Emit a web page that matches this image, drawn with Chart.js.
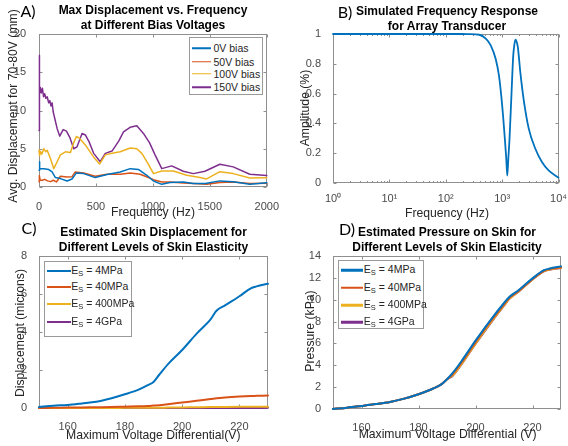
<!DOCTYPE html>
<html><head><meta charset="utf-8">
<script src="https://cdn.jsdelivr.net/npm/chart.js@4.4.0/dist/chart.umd.min.js"></script>
<style>
body{margin:0;background:#fff;width:568px;height:446px;position:relative;overflow:hidden;font-family:'Liberation Sans',Arial,sans-serif;}
canvas{position:absolute;}
.t{position:absolute;transform:translate(-50%,-50%);white-space:nowrap;line-height:1;}
.ttl{font-weight:bold;font-size:12px;color:#000;}
.ax{font-size:12.2px;color:#262626;}
.rot{transform:translate(-50%,-50%) rotate(-90deg);}
.let{font-family:Lato,'Liberation Sans',sans-serif;font-size:16px;color:#000;}
.leg{position:absolute;background:#fff;border:1px solid #9a9a9a;box-sizing:border-box;}
.sw{position:absolute;transform:translateY(-50%);}
.lt{position:absolute;transform:translateY(-50%);font-size:10.5px;color:#262626;line-height:1;white-space:nowrap;}
.lt sub{font-size:7.5px;vertical-align:-2px;}
</style></head>
<body>
<canvas id="cA" width="284" height="223" style="left:0;top:0"></canvas>
<canvas id="cB" width="284" height="223" style="left:284px;top:0"></canvas>
<canvas id="cC" width="284" height="223" style="left:0;top:223px"></canvas>
<canvas id="cD" width="284" height="223" style="left:284px;top:223px"></canvas>

<div class="t let" style="left:28px;top:11px">A)</div>
<div class="t let" style="left:345px;top:11.5px">B)</div>
<div class="t let" style="left:29px;top:228px">C)</div>
<div class="t let" style="left:347px;top:229px">D)</div>

<div class="t ttl" style="left:153px;top:10px">Max Displacement vs. Frequency</div>
<div class="t ttl" style="left:153px;top:25px">at Different Bias Voltages</div>
<div class="t ttl" style="left:447px;top:10.5px">Simulated Frequency Response</div>
<div class="t ttl" style="left:447px;top:25.7px">for Array Transducer</div>
<div class="t ttl" style="left:153.5px;top:232.3px">Estimated Skin Displacement for</div>
<div class="t ttl" style="left:153.5px;top:247px">Different Levels of Skin Elasticity</div>
<div class="t ttl" style="left:447px;top:232.3px">Estimated Pressure on Skin for</div>
<div class="t ttl" style="left:447px;top:247px">Different Levels of Skin Elasticity</div>

<div class="t ax" style="left:153px;top:211.7px">Frequency (Hz)</div>
<div class="t ax rot" style="left:13px;top:106px">Avg. Displacement for 70-80V (mm)</div>
<div class="t ax" style="left:447px;top:212.7px">Frequency (Hz)</div>
<div class="t ax rot" style="left:304.7px;top:108.3px">Amplitude (%)</div>
<div class="t ax" style="left:153.3px;top:435px">Maximum Voltage Differential(V)</div>
<div class="t ax rot" style="left:20px;top:333px">Displacement (microns)</div>
<div class="t ax" style="left:447.6px;top:434px">Maximum Voltage Differential (V)</div>
<div class="t ax rot" style="left:310px;top:331px">Pressure (kPa)</div>

<div id="legA" class="leg" style="left:189px;top:37px;width:74px;height:58px"></div>
<div id="legC" class="leg" style="left:44px;top:260.7px;width:87.5px;height:76.3px"></div>
<div id="legD" class="leg" style="left:338.3px;top:259.7px;width:85.7px;height:69.3px"></div>

<script>
// ---------- Colours (MATLAB default order) ----------
const colors = ['#0072BD', '#D95319', '#EDB120', '#7E2F8E'];

// ---------- Panel A: Max displacement vs frequency ----------
const seriesNamesA = ['0V bias', '50V bias', '100V bias', '150V bias'];
const freqA0 = [0, 3, 8, 42, 86, 115, 144, 188, 247, 290, 328, 392, 494, 597, 713, 801, 873, 947, 1005, 1078, 1151, 1267, 1355, 1460, 1588, 1705, 1851, 2000];
const dispA0 = [2.2, 3.3, 2.4, 2.4, 2.28, 1.97, 1.23, 1.1, 0.79, 1.05, 1.84, 1.75, 1.23, 1.63, 1.97, 2.4, 2.3, 1.53, 0.79, 0.35, 0.6, 0.66, 0.45, 0.45, 0.8, 0.7, 0.35, 0.56];
const freqA50 = [0, 3, 10, 28, 50, 75, 101, 125, 153, 188, 247, 290, 319, 392, 494, 597, 713, 801, 888, 950, 1005, 1078, 1151, 1267, 1355, 1472, 1588, 1705, 1851, 2000];
const dispA50 = [0.7, 1.5, 0.9, 0.88, 1.0, 0.8, 0.7, 0.88, 0.66, 1.4, 1.3, 1.35, 1.97, 1.84, 1.4, 1.66, 1.66, 1.84, 1.66, 1.3, 0.96, 0.66, 0.66, 0.53, 0.45, 0.35, 0.6, 0.66, 0.45, 0.5];
const freqA100 = [0, 5, 15, 25, 42, 60, 72, 101, 130, 159, 188, 232, 276, 305, 328, 357, 407, 480, 532, 582, 641, 713, 801, 859, 903, 960, 1005, 1078, 1179, 1297, 1413, 1472, 1588, 1705, 1851, 2000];
const dispA100 = [4.8, 4.1, 4.6, 4.3, 5.0, 4.6, 4.8, 3.7, 2.4, 3.3, 4.2, 4.6, 4.5, 5.8, 6.6, 6.35, 5.5, 3.9, 3.0, 4.2, 4.4, 4.6, 5.1, 5.0, 4.4, 3.0, 1.75, 2.1, 2.1, 1.53, 1.23, 1.05, 2.0, 1.75, 1.18, 1.2];
const freqA150 = [0, 2, 6, 12, 20, 30, 40, 50, 60, 72, 85, 95, 105, 115, 125, 159, 182, 212, 241, 270, 305, 334, 378, 407, 440, 480, 538, 582, 641, 700, 742, 800, 859, 917, 970, 1019, 1078, 1165, 1267, 1355, 1457, 1588, 1705, 1851, 2000];
const dispA150 = [7.4, 17.2, 12.2, 13.0, 12.3, 12.9, 11.8, 12.2, 11.6, 11.8, 11.0, 11.3, 10.6, 11.0, 9.8, 7.66, 6.65, 7.5, 7.3, 6.5, 5.0, 5.25, 7.0, 6.8, 5.9, 4.4, 3.3, 4.4, 4.7, 6.0, 7.2, 7.8, 8.0, 7.0, 5.8, 4.2, 2.4, 2.76, 2.06, 1.75, 2.06, 2.98, 2.63, 1.66, 1.49];
const xTicksA = [0, 500, 1000, 1500, 2000];
const yTicksA = [0, 5, 10, 15, 20];

// ---------- Panel B: simulated frequency response ----------
const freqB = [1, 10, 100, 200, 261, 392, 513, 627, 767, 879, 1007, 1122, 1180, 1233, 1290, 1349, 1466, 1570, 1650, 1726, 1800, 1897, 2113, 2421, 2965, 3881, 5082, 6668, 10000];
const ampB = [1, 1, 1, 1, 0.999, 0.995, 0.969, 0.924, 0.834, 0.72, 0.51, 0.286, 0.17, 0.05, 0.17, 0.29, 0.6, 0.85, 0.93, 0.962, 0.95, 0.913, 0.734, 0.555, 0.365, 0.23, 0.141, 0.085, 0.036];
const xMajorB = [1, 10, 100, 1000, 10000];
const xMajorLabelsB = ['10\u2070', '10\u00B9', '10\u00B2', '10\u00B3', '10\u2074'];
const xMinorB = [2,3,4,5,6,7,8,9,20,30,40,50,60,70,80,90,200,300,400,500,600,700,800,900,2000,3000,4000,5000,6000,7000,8000,9000];
const yTicksB = [0, 0.2, 0.4, 0.6, 0.8, 1];

// ---------- Panels C & D: skin elasticity ----------
const seriesNamesCD = ['4MPa', '40MPa', '400MPa', '4GPa'];
const voltsCD = [150, 155, 160, 165, 170, 175, 180, 185, 188, 190, 192, 195, 200, 205, 210, 212, 215, 220, 224, 226, 230];
const dispC4M = [0.05, 0.12, 0.16, 0.24, 0.33, 0.5, 0.72, 0.98, 1.2, 1.37, 1.75, 2.3, 3.05, 3.9, 4.68, 5.12, 5.4, 5.88, 6.3, 6.4, 6.54];
const dispC40M = [0, 0.01, 0.02, 0.03, 0.04, 0.05, 0.07, 0.09, 0.11, 0.13, 0.15, 0.2, 0.29, 0.38, 0.47, 0.51, 0.55, 0.6, 0.63, 0.64, 0.66];
const dispC400M = [0, 0.001, 0.002, 0.003, 0.004, 0.005, 0.007, 0.009, 0.011, 0.013, 0.015, 0.02, 0.029, 0.038, 0.047, 0.051, 0.055, 0.06, 0.063, 0.064, 0.066];
const dispC4G = [0, 0.0001, 0.0002, 0.0003, 0.0004, 0.0005, 0.0007, 0.0009, 0.0011, 0.0013, 0.0015, 0.002, 0.0029, 0.0038, 0.0047, 0.0051, 0.0055, 0.006, 0.0063, 0.0064, 0.0066];
const presD4M = [0, 0.12, 0.28, 0.45, 0.65, 0.95, 1.35, 1.85, 2.25, 2.72, 3.3, 4.35, 6.25, 8.05, 9.7, 10.3, 10.85, 11.95, 12.7, 12.85, 13.05];
const presD40M = [0, 0.12, 0.28, 0.45, 0.65, 0.95, 1.35, 1.85, 2.25, 2.72, 3.2, 4.22, 6.12, 7.92, 9.58, 10.2, 10.78, 11.9, 12.65, 12.8, 12.98];
const presD400M = [0, 0.12, 0.28, 0.45, 0.65, 0.95, 1.35, 1.85, 2.25, 2.72, 3.08, 4.08, 5.98, 7.78, 9.47, 10.12, 10.72, 11.86, 12.61, 12.76, 12.92];
const presD4G = [0, 0.12, 0.28, 0.45, 0.65, 0.95, 1.35, 1.85, 2.25, 2.72, 3.05, 4.05, 5.95, 7.75, 9.45, 10.1, 10.7, 11.85, 12.6, 12.75, 12.9];
const xTicksCD = [160, 180, 200, 220];
const yTicksC = [0, 2, 4, 6, 8];
const yTicksD = [0, 2, 4, 6, 8, 10, 12, 14];

// ---------- helpers ----------
const TICK_FONT = {family: "'Liberation Sans', Arial, sans-serif", size: 11};
const TICK_COLOR = '#4a4a4a';
const AXIS_COLOR = '#8f8f8f';

const pts = (xs, ys) => xs.map((x, i) => ({x: x, y: ys[i]}));

const boxPlugin = {
  id: 'mbox',
  beforeDatasetsDraw(chart) {
    const {ctx, chartArea: a, scales} = chart;
    const L = Math.round(a.left) + 0.5, R = Math.round(a.right) - 0.5;
    const T = Math.round(a.top) + 0.5, B = Math.round(a.bottom) - 0.5;
    ctx.save();
    ctx.strokeStyle = AXIS_COLOR;
    ctx.lineWidth = 1;
    ctx.strokeRect(L, T, R - L, B - T);
    ctx.beginPath();
    const xs = scales.x, ys = scales.y;
    const minorX = xs.options.minorTicks || [];
    xs.ticks.forEach(t => {
      const len = minorX.includes(t.value) ? 1.5 : 3;
      const p = Math.round(xs.getPixelForValue(t.value)) + 0.5;
      ctx.moveTo(p, B); ctx.lineTo(p, B - len);
      ctx.moveTo(p, T); ctx.lineTo(p, T + len);
    });
    ys.ticks.forEach(t => {
      const p = Math.round(ys.getPixelForValue(t.value)) + 0.5;
      ctx.moveTo(L, p); ctx.lineTo(L + 3, p);
      ctx.moveTo(R, p); ctx.lineTo(R - 3, p);
    });
    ctx.stroke();
    ctx.restore();
  }
};

function makeChart(id, area, xOpt, yOpt, datasets) {
  const W = 284, H = 223;
  const xs = Object.assign({
    grid: {display: false}, border: {display: false},
    afterFit: s => { s.height = H - area.b; }
  }, xOpt);
  xs.ticks = Object.assign({font: TICK_FONT, color: TICK_COLOR, autoSkip: false, maxRotation: 0, minRotation: 0}, xOpt.ticks);
  const ys = Object.assign({
    grid: {display: false}, border: {display: false},
    afterFit: s => { s.width = area.l; }
  }, yOpt);
  ys.ticks = Object.assign({font: TICK_FONT, color: TICK_COLOR, autoSkip: false}, yOpt.ticks);
  return new Chart(document.getElementById(id), {
    type: 'line',
    data: {datasets: datasets},
    options: {
      responsive: false, animation: false, devicePixelRatio: 1,
      layout: {padding: {left: 0, top: area.t, right: W - area.r, bottom: 0}},
      plugins: {legend: {display: false}, title: {display: false}, tooltip: {enabled: false}},
      elements: {point: {radius: 0}, line: {borderCapStyle: 'round', borderJoinStyle: 'round'}},
      scales: {x: xs, y: ys}
    },
    plugins: [boxPlugin]
  });
}

const setTicks = arr => (s => { s.ticks = arr.map(v => ({value: v})); });
const ds = (data, color, w, extra) => Object.assign({data: data, borderColor: color, backgroundColor: color, borderWidth: w, fill: false, tension: 0, clip: 3, pointRadius: 0}, extra || {});

// Panel A
makeChart('cA', {l: 39, t: 34, r: 267, b: 187},
  {type: 'linear', min: 0, max: 2000, afterBuildTicks: setTicks(xTicksA), ticks: {padding: 5, callback: v => String(v)}},
  {type: 'linear', min: 0, max: 20, afterBuildTicks: setTicks(yTicksA), ticks: {padding: 5, callback: v => String(v)}},
  [
    ds(pts(freqA0, dispA0), colors[0], 1.5, {label: seriesNamesA[0]}),
    ds(pts(freqA50, dispA50), colors[1], 1.5, {label: seriesNamesA[1]}),
    ds(pts(freqA100, dispA100), colors[2], 1.5, {label: seriesNamesA[2]}),
    ds(pts(freqA150, dispA150), colors[3], 1.5, {label: seriesNamesA[3]})
  ]);

// Panel B
const allTicksB = xMajorB.concat(xMinorB).sort((a, b) => a - b);
makeChart('cB', {l: 49, t: 34, r: 277, b: 183},
  {type: 'logarithmic', min: 1, max: 10000, minorTicks: xMinorB, afterBuildTicks: setTicks(allTicksB),
   ticks: {padding: 1, callback: v => { const i = xMajorB.indexOf(v); return i >= 0 ? xMajorLabelsB[i] : ''; }}},
  {type: 'linear', min: 0, max: 1, afterBuildTicks: setTicks(yTicksB), ticks: {padding: 4, callback: v => String(Math.round(v * 10) / 10)}},
  [ds(pts(freqB, ampB), colors[0], 1.8, {label: 'Response', cubicInterpolationMode: 'monotone'})]);

// Panel C
makeChart('cC', {l: 39, t: 33, r: 268, b: 185},
  {type: 'linear', min: 150, max: 230, afterBuildTicks: setTicks(xTicksCD), ticks: {padding: 4, callback: v => String(v)}},
  {type: 'linear', min: 0, max: 8, afterBuildTicks: setTicks(yTicksC), ticks: {padding: 4, callback: v => String(v)}},
  [
    ds(pts(voltsCD, dispC4M), colors[0], 2, {label: seriesNamesCD[0], cubicInterpolationMode: 'monotone'}),
    ds(pts(voltsCD, dispC40M), colors[1], 2, {label: seriesNamesCD[1], cubicInterpolationMode: 'monotone'}),
    ds(pts(voltsCD, dispC400M), colors[2], 2, {label: seriesNamesCD[2], cubicInterpolationMode: 'monotone'}),
    ds(pts(voltsCD, dispC4G), colors[3], 2, {label: seriesNamesCD[3], cubicInterpolationMode: 'monotone'})
  ]);

// Panel D
makeChart('cD', {l: 49, t: 33, r: 277, b: 186},
  {type: 'linear', min: 150, max: 230, afterBuildTicks: setTicks(xTicksCD), ticks: {padding: 4, callback: v => String(v)}},
  {type: 'linear', min: 0, max: 14, afterBuildTicks: setTicks(yTicksD), ticks: {padding: 4, callback: v => String(v)}},
  [
    ds(pts(voltsCD, presD4M), colors[0], 2, {label: seriesNamesCD[0], cubicInterpolationMode: 'monotone'}),
    ds(pts(voltsCD, presD40M), colors[1], 2, {label: seriesNamesCD[1], cubicInterpolationMode: 'monotone'}),
    ds(pts(voltsCD, presD400M), colors[2], 2, {label: seriesNamesCD[2], cubicInterpolationMode: 'monotone'}),
    ds(pts(voltsCD, presD4G), colors[3], 2, {label: seriesNamesCD[3], cubicInterpolationMode: 'monotone'})
  ]);

// ---------- HTML legends ----------
function buildLegend(id, labels, rowsY, lineX0, lineX1, textX, lw, sub) {
  const el = document.getElementById(id);
  labels.forEach((lab, i) => {
    const sw = document.createElement('div');
    sw.className = 'sw';
    sw.style.cssText = `left:${lineX0}px;width:${lineX1 - lineX0}px;top:${rowsY[i]}px;height:${lw}px;background:${colors[i]}`;
    el.appendChild(sw);
    const tx = document.createElement('div');
    tx.className = 'lt';
    tx.style.left = textX + 'px';
    tx.style.top = rowsY[i] + 'px';
    if (sub) { tx.innerHTML = 'E<sub>S</sub> = ' + lab; } else { tx.textContent = lab; }
    el.appendChild(tx);
  });
}
buildLegend('legA', seriesNamesA, [10.2, 23.5, 35.8, 49.2], 2.2, 21.2, 23.5, 1.5, false);
buildLegend('legC', seriesNamesCD, [9.5, 25.8, 42.8, 60.8], 2, 25.5, 26.2, 2, true);
buildLegend('legD', seriesNamesCD, [9.5, 27.1, 44.5, 61.8], 2, 23.8, 24.5, 2.5, true);
</script>
</body></html>
